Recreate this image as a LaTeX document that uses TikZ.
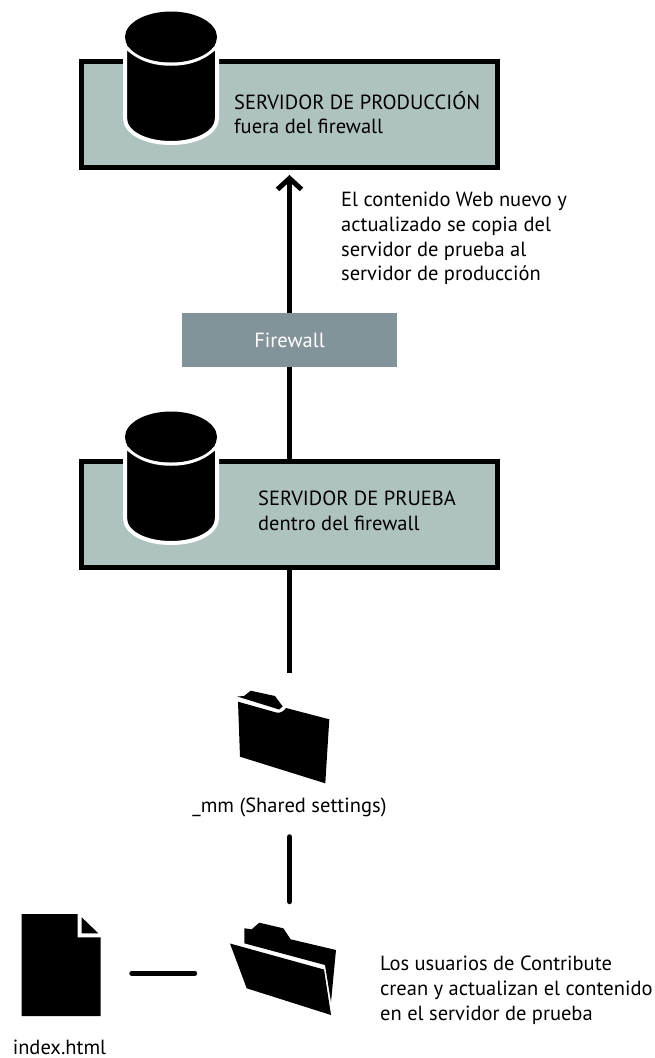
\documentclass[tikz,border=0pt]{standalone}
\usepackage{fontspec}
\setmainfont{PT Sans}
\usetikzlibrary{arrows.meta}
\definecolor{boxfill}{HTML}{AEC2BF}
\definecolor{fwfill}{HTML}{82949A}
\tikzset{
  server/.style={draw=black,line width=5pt,fill=boxfill,minimum width=416pt,minimum height=106pt,inner sep=0pt},
  firewallbox/.style={fill=fwfill,text=white,minimum width=215pt,minimum height=54pt,inner sep=0pt,font=\fontsize{20.5}{24}\selectfont},
  conn/.style={line width=5.5pt,black},
  label/.style={align=left,inner sep=0pt,anchor=north west,font=\fontsize{20.5}{24.7}\selectfont},
  caption/.style={inner sep=0pt,font=\fontsize{20.5}{24}\selectfont},
  cylbody/.style={fill=black,draw=white,line width=4pt},
}
\newcommand{\cylinder}[1]{%
  \begin{scope}[yshift=#1]
    \path[cylbody] (125,45) -- (125,118) .. controls (125,133) and (146,143) .. (171,143)
       .. controls (196,143) and (217,133) .. (217,118) -- (217,45);
    \draw[white,line width=3.5pt] (123,44) .. controls (135,57) and (150,64) .. (171,64)
       .. controls (192,64) and (207,57) .. (219,44);
    \fill[black] (171,37) ellipse [x radius=46, y radius=25.5];
  \end{scope}}
\begin{document}
\begin{tikzpicture}[x=1pt,y=-1pt]
\useasboundingbox (0,0) rectangle (654,1058);
% nodes
\node[server] (prod) at (289.5,114.5) {};
\node[server] (test) at (289.5,514.5) {};
\coordinate (sharedtop) at (289.5,672.5);
\coordinate (sharedbottom) at (289.5,837);
\coordinate (openfoldertop) at (289.5,901.5);
\coordinate (docright) at (132,973.3);
\coordinate (openleft) at (194.5,973.3);
% connectors
\draw[conn,-{Straight Barb[length=11pt,width=24pt,line width=5pt]},shorten >=5pt] (test.north) -- (prod.south);
\node[firewallbox] (fw) at (289.5,340) {Firewall};
\draw[conn] (test.south) -- (sharedtop);
\draw[conn,line cap=round] (sharedbottom) -- (openfoldertop);
\draw[conn,line cap=round] (docright) -- (openleft);
% cylinders
\cylinder{0pt}
\cylinder{-400pt}
% labels
\node[label] (prodlabel) at (234,91) {SERVIDOR DE PRODUCCIÓN\\fuera del firewall};
\node[label] (testlabel) at (258,491) {SERVIDOR DE PRUEBA\\dentro del firewall};
\node[label] (copylabel) at (341,192) {El contenido Web nuevo y\\actualizado se copia del\\servidor de prueba al\\servidor de producción};
\node[label] (userlabel) at (380,956) {Los usuarios de Contribute\\crean y actualizan el contenido\\en el servidor de prueba};
\node[caption] (sharedlabel) at (289.5,807) {\_mm (Shared settings)};
\node[caption] (indexlabel) at (59.5,1047) {index.html};
% closed folder
\fill (237.3,696.5) -- (244,696) -- (250.7,690.7) -- (275,696) -- (282.7,706.5) -- (279,709.5) -- (276,708.5) -- cycle;
\fill (238,701.7) -- (277,712.7) .. controls (281,713) and (284,711) .. (286,708) -- (329.3,719.3) -- (325.3,783.3) -- (240,756.7) -- cycle;
% document
\fill (21.7,914) -- (77.7,914) -- (77.7,937.3) -- (100.7,937.3) -- (100.7,1016) -- (21.7,1016) -- cycle;
\fill (81.7,917.3) -- (98.3,933.3) -- (81.7,933.3) -- cycle;
% open folder
\fill (244.3,928.3) -- (251.7,929.3) -- (259.3,922.7) -- (283.3,928.3) -- (290.7,939.3) -- (336,950) -- (331,1002) -- (325,965) -- (244.3,943.3) -- cycle;
\fill (230,943.5) -- (324,969.5) -- (331,1015) -- (246.7,988.3) -- cycle;
\end{tikzpicture}
\end{document}
